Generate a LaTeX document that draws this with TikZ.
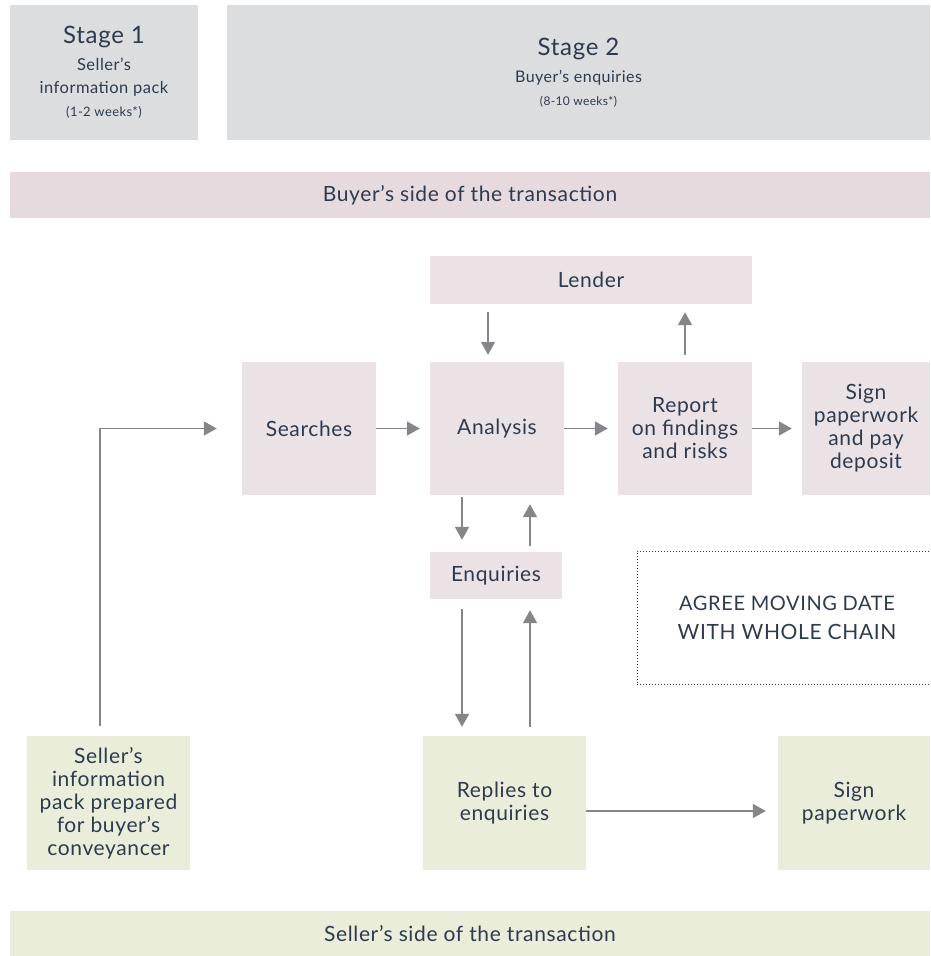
\documentclass[tikz,border=0pt]{standalone}
\usepackage{fontspec}
\setmainfont{Lato}[LetterSpace=3]
\usetikzlibrary{arrows.meta}
\definecolor{ink}{HTML}{2D3B4E}
\definecolor{stagegrey}{HTML}{DCDDDF}
\definecolor{buyerpink}{HTML}{EBE2E6}
\definecolor{bandpink}{HTML}{E6DADF}
\definecolor{sellergreen}{HTML}{EAEDDA}
\definecolor{arrowgrey}{HTML}{85868A}

\begin{document}
\begin{tikzpicture}[x=1pt, y=-1pt, text=ink, font=\fontsize{21}{23}\selectfont,
    box/.style={inner sep=0pt, align=center, minimum width=134pt, minimum height=133pt},
    buyer/.style={box, fill=buyerpink},
    seller/.style={box, fill=sellergreen, minimum width=163pt, minimum height=134pt},
    band/.style={inner sep=0pt, minimum width=920pt, minimum height=46pt},
    arr/.style={draw=arrowgrey, line width=1.8pt, -{Triangle[width=14pt,length=13pt]}}]
    \useasboundingbox (0,0) rectangle (930,956);

    % stages
    \node (stage1) [box, fill=stagegrey, minimum width=188pt, minimum height=135pt] at (104,72.5)
        {\fontsize{24}{28}\selectfont Stage 1\\[4pt]
         \fontsize{16.5}{21}\selectfont Seller's\\ \fontsize{16.5}{21}\selectfont information pack\\
         \fontsize{13}{18}\selectfont (1-2 weeks*)};
    \node (stage2) [box, fill=stagegrey, minimum width=703pt, minimum height=135pt] at (578.5,72.5)
        {\fontsize{24}{28}\selectfont Stage 2\\[4pt]
         \fontsize{16}{21}\selectfont Buyer's enquiries\\
         \fontsize{12}{17}\selectfont (8-10 weeks*)};

    \node (buyband) [band, fill=bandpink] at (470,195) {Buyer's side of the transaction};

    % buyer's side
    \node (lender) [buyer, minimum width=322pt, minimum height=48pt] at (591,280) {Lender};
    \node (searches) [buyer] at (309,428.5) {Searches};
    \node (analysis) [buyer] at (497,428.5) {Analysis};
    \node (report) [buyer] at (685,428.5) {Report\\on findings\\and risks};
    \node (signdep) [buyer, minimum width=128pt] at (866,428.5) {Sign\\paperwork\\and pay\\deposit};
    \node (enquiries) [buyer, minimum width=132pt, minimum height=47pt] at (496,575.5) {Enquiries};

    \node (agree) [draw=ink, line width=0.9pt, dash pattern=on 0.9pt off 2.1pt, align=center,
        minimum width=300pt, minimum height=133pt] at (787,617.5)
        {\fontsize{20}{23}\selectfont AGREE MOVING DATE\\[6pt]WITH WHOLE CHAIN};

    % seller's side
    \node (pack) [seller] at (108.5,803) {Seller's\\information\\pack prepared\\for buyer's\\conveyancer};
    \node (replies) [seller] at (504.5,803) {Replies to\\enquiries};
    \node (signpw) [seller, minimum width=152pt] at (854,803) {Sign\\paperwork};

    \node (sellband) [band, fill=sellergreen, minimum height=45pt] at (470,933.5) {Seller's side of the transaction};

    % connectors
    \draw[arr, shorten <=8pt, shorten >=7pt] ([xshift=-9pt]analysis.north |- lender.south) -- ([xshift=-9pt]analysis.north);
    \draw[arr, shorten <=7pt, shorten >=8pt] (report.north) -- (report.north |- lender.south);
    \draw[arr, shorten >=10pt] (searches.east) -- (analysis.west);
    \draw[arr, shorten >=10pt] (analysis.east) -- (report.west);
    \draw[arr, shorten >=10pt] (report.east) -- (signdep.west);
    \draw[arr, shorten <=2pt, shorten >=12pt] ([xshift=-35pt]analysis.south) -- ([xshift=-35pt]analysis.south |- enquiries.north);
    \draw[arr, shorten <=6pt, shorten >=9pt] ([xshift=34pt]enquiries.north) -- ([xshift=34pt]enquiries.north |- analysis.south);
    \draw[arr, shorten <=10pt, shorten >=9pt] ([xshift=-34pt]enquiries.south) -- ([xshift=-34pt]enquiries.south |- replies.north);
    \draw[arr, shorten <=9pt, shorten >=11pt] ([xshift=34pt]enquiries.south |- replies.north) -- ([xshift=34pt]enquiries.south);
    \draw[arr, shorten >=12pt] ([yshift=-8pt]replies.east) -- ([yshift=-8pt]replies.east -| signpw.west);
    \draw[arr, shorten <=10pt, shorten >=25pt] ([xshift=-8.5pt]pack.north) |- (searches.west);
\end{tikzpicture}
\end{document}
